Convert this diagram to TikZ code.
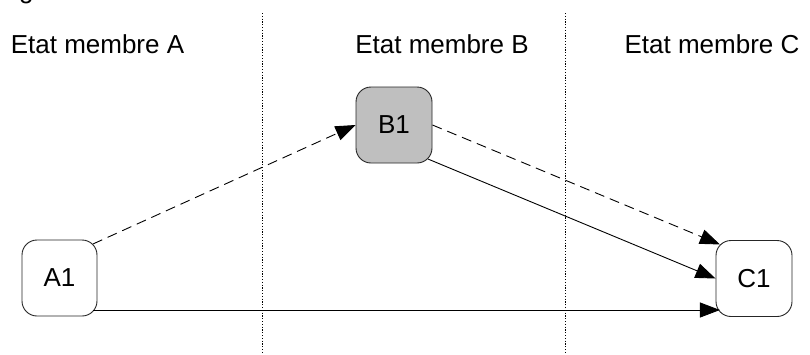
\documentclass[tikz,border=0pt]{standalone}
\usepackage{fontspec}
\setmainfont{Liberation Sans}
\usetikzlibrary{arrows.meta}
\begin{document}
\begin{tikzpicture}[x=1pt,y=-1pt,
  box/.style={draw=black!85,line width=0.9pt,rounded corners=15pt,minimum width=75pt,minimum height=76pt,inner sep=0pt,font=\fontsize{26}{30}\selectfont},
  lab/.style={anchor=base,inner sep=0pt,font=\fontsize{26}{30}\selectfont},
  sep/.style={line width=0.8pt,dash pattern=on 1.2pt off 1.6pt},
  conn/.style={line width=0.9pt,-{Triangle[length=20pt,width=15pt]}},
  dashconn/.style={conn,dash pattern=on 10pt off 6pt}]
\useasboundingbox (0,0) rectangle (810,354);
\fill[white] (0,0) rectangle (810,354);
\node[lab,anchor=base west] (frag) at (19,-1.5) {g};
\coordinate (s1t) at (262,13); \coordinate (s1b) at (262,354);
\coordinate (s2t) at (565,13); \coordinate (s2b) at (565,354);
\draw[sep] (s1t) -- (s1b);
\draw[sep] (s2t) -- (s2b);
\node[lab] (la) at (97.5,53) {Etat membre A};
\node[lab] (lb) at (442,53) {Etat membre B};
\node[lab] (lc) at (712,53) {Etat membre C};
\node[box] (A1) at (59.5,278) {A1};
\node[box,fill=black!25,minimum width=76pt] (B1) at (394,125) {B1};
\node[box,minimum width=76pt] (C1) at (754,278.5) {C1};
\draw[dashconn] ([shift={(-4.4pt,-4.4pt)}]A1.north east) -- (B1.west);
\draw[dashconn] (B1.east) -- ([shift={(4.4pt,-4.4pt)}]C1.north west);
\draw[conn] ([shift={(-4.4pt,4.4pt)}]B1.south east) -- (C1.west);
\draw[conn] ([shift={(-4.4pt,0pt)}]A1.south east |- 0,310) -- ([shift={(4.4pt,0pt)}]C1.south west |- 0,310);
\end{tikzpicture}
\end{document}
